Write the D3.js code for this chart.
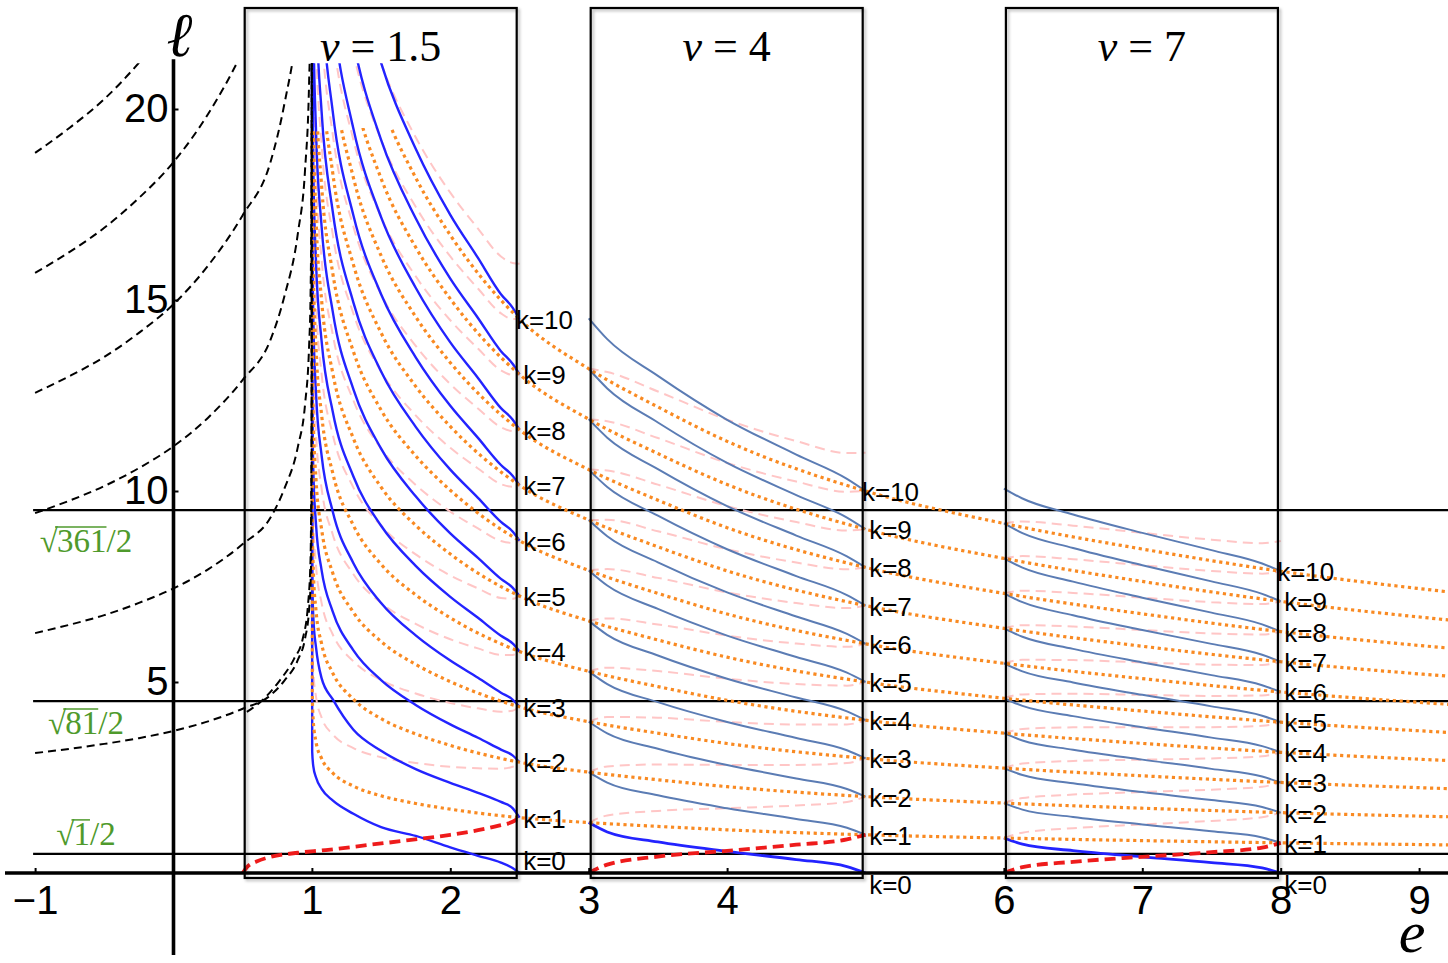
<!DOCTYPE html>
<html>
<head>
<meta charset="utf-8">
<script src="https://cdn.jsdelivr.net/npm/d3@7"></script>
<style>
body { margin: 0; background: #fff; }
svg { display: block; }
</style>
</head>
<body>
<svg id="chart" width="1448" height="963"></svg>
<script>
// ---------- values ----------
var xTicks = [-1, 1, 2, 3, 4, 6, 7, 8, 9]
var yTicks = [5, 10, 15, 20]
var levelLines = [0.5, 4.5, 9.5]
var levelRoots = ["1", "81", "361"]
var panelV = [1.5, 4, 7]
var panelTitles = ["1.5", "4", "7"]

// orange dotted curves, k = 1..10, l at eOrange
var eOrange = [1.0, 1.002, 1.01, 1.03, 1.07, 1.15, 1.3, 1.5, 1.75, 2.0, 2.5, 3, 3.5, 4, 5, 6, 7, 8, 9.21]
var orange = [
	[60, 4.78, 3.97, 3.43, 3.0, 2.62, 2.275, 2.02, 1.82, 1.67, 1.45, 1.32, 1.22, 1.13, 1.0, 0.915, 0.848, 0.79, 0.736],
	[60, 9.56, 7.94, 6.86, 6.0, 5.24, 4.55, 4.04, 3.64, 3.34, 2.9, 2.64, 2.44, 2.26, 2.0, 1.83, 1.696, 1.58, 1.472],
	[60, 14.34, 11.91, 10.29, 9.0, 7.86, 6.825, 6.06, 5.46, 5.01, 4.35, 3.96, 3.66, 3.39, 3.0, 2.745, 2.544, 2.37, 2.208],
	[60, 19.12, 15.88, 13.72, 12.0, 10.48, 9.1, 8.08, 7.28, 6.68, 5.8, 5.28, 4.88, 4.52, 4.0, 3.66, 3.392, 3.16, 2.944],
	[60, 23.9, 19.85, 17.15, 15.0, 13.1, 11.375, 10.1, 9.1, 8.35, 7.25, 6.6, 6.1, 5.65, 5.0, 4.575, 4.24, 3.95, 3.68],
	[60, 28.68, 23.82, 20.58, 18.0, 15.72, 13.65, 12.12, 10.92, 10.02, 8.7, 7.92, 7.32, 6.78, 6.0, 5.49, 5.088, 4.74, 4.416],
	[60, 33.46, 27.79, 24.01, 21.0, 18.34, 15.925, 14.14, 12.74, 11.69, 10.15, 9.24, 8.54, 7.91, 7.0, 6.405, 5.936, 5.53, 5.152],
	[60, 38.24, 31.76, 27.44, 24.0, 20.96, 18.2, 16.16, 14.56, 13.36, 11.6, 10.56, 9.76, 9.04, 8.0, 7.32, 6.784, 6.32, 5.888],
	[60, 43.02, 35.73, 30.87, 27.0, 23.58, 20.475, 18.18, 16.38, 15.03, 13.05, 11.88, 10.98, 10.17, 9.0, 8.235, 7.632, 7.11, 6.624],
	[60, 47.8, 39.7, 34.3, 30.0, 26.2, 22.75, 20.2, 18.2, 16.7, 14.5, 13.2, 12.2, 11.3, 10.0, 9.15, 8.48, 7.9, 7.36]
]

// black dashed curves on the left, n = 1..6
var eBlack = [-1, -0.75, -0.5, -0.25, 0, 0.25, 0.5, 0.7, 0.8, 0.9, 0.95, 0.98, 0.99, 0.997, 0.9995, 1.0]
var black = [
	[3.14, 3.25, 3.38, 3.53, 3.72, 3.97, 4.30, 4.65, 5.03, 5.59, 6.13, 6.91, 7.54, 9.11, 14.14, 25.13],
	[6.28, 6.50, 6.75, 7.07, 7.45, 7.95, 8.61, 9.30, 10.05, 11.18, 12.25, 13.82, 15.08, 18.22, 28.27, 50.27],
	[9.42, 9.75, 10.13, 10.60, 11.17, 11.92, 12.91, 13.95, 15.08, 16.78, 18.38, 20.73, 22.62, 27.33, 42.41, 75.4],
	[12.57, 13.01, 13.51, 14.14, 14.89, 15.90, 17.22, 18.60, 20.11, 22.37, 24.50, 27.65, 30.16, 36.44, 56.55, 100.5],
	[15.71, 16.26, 16.89, 17.67, 18.61, 19.87, 21.52, 23.25, 25.13, 27.96, 30.63, 34.56, 37.70, 45.55, 70.69, 125.7],
	[18.85, 19.51, 20.26, 21.21, 22.34, 23.85, 25.82, 27.90, 30.16, 33.55, 36.76, 41.47, 45.24, 54.66, 84.82, 150.8]
]
var blackInset = [[0.53, 4.22], [0.65, 4.55], [0.77, 5.05], [0.87, 5.6], [0.935, 6.15], [0.97, 6.95], [0.99, 8.2], [0.998, 12], [1.0, 25]]

// panel v = 1.5
var e15 = [1.0, 1.002, 1.01, 1.03, 1.07, 1.15, 1.3, 1.5, 1.75, 2.0, 2.2, 2.366, 2.45, 2.5]
var blue15 = [
	[60, 3.18, 2.8, 2.5, 2.2, 1.9, 1.55, 1.2, 0.97, 0.67, 0.45, 0.27, 0.13, 0],
	[60, 7.96, 6.7, 5.9, 5.1, 4.55, 3.75, 3.2, 2.72, 2.36, 2.1, 1.86, 1.7, 1.45],
	[60, 12.74, 10.57, 9.11, 7.93, 6.85, 5.83, 5.05, 4.40, 3.89, 3.54, 3.23, 3.08, 2.9],
	[60, 17.52, 14.54, 12.54, 10.93, 9.47, 8.11, 7.07, 6.22, 5.56, 5.11, 4.72, 4.54, 4.35],
	[60, 22.3, 18.51, 15.97, 13.93, 12.09, 10.38, 9.09, 8.04, 7.23, 6.68, 6.21, 6.01, 5.8],
	[60, 27.08, 22.48, 19.4, 16.93, 14.71, 12.66, 11.11, 9.86, 8.89, 8.25, 7.7, 7.47, 7.25],
	[60, 31.86, 26.45, 22.83, 19.93, 17.33, 14.93, 13.13, 11.68, 10.56, 9.82, 9.19, 8.94, 8.7],
	[60, 36.64, 30.42, 26.26, 22.93, 19.95, 17.21, 15.15, 13.5, 12.23, 11.39, 10.68, 10.4, 10.15],
	[60, 41.42, 34.39, 29.69, 25.93, 22.57, 19.48, 17.17, 15.32, 13.89, 12.96, 12.17, 11.87, 11.6],
	[60, 46.2, 38.36, 33.12, 28.93, 25.19, 21.76, 19.19, 17.14, 15.56, 14.53, 13.66, 13.33, 13.05],
	[60, 50.98, 42.33, 36.55, 31.93, 27.81, 24.03, 21.21, 18.96, 17.23, 16.1, 15.15, 14.8, 14.5]
]
var pink15 = [
	[60, 6.38, 5.31, 4.61, 4.07, 3.63, 3.27, 3.03, 2.88, 2.78, 2.74, 2.73, 2.78, 2.9],
	[60, 11.16, 9.28, 8.04, 7.07, 6.25, 5.54, 5.05, 4.70, 4.45, 4.31, 4.22, 4.25, 4.35],
	[60, 15.94, 13.25, 11.47, 10.07, 8.87, 7.82, 7.07, 6.52, 6.12, 5.88, 5.71, 5.71, 5.8],
	[60, 20.72, 17.22, 14.9, 13.07, 11.49, 10.09, 9.09, 8.34, 7.79, 7.45, 7.2, 7.18, 7.25],
	[60, 25.5, 21.19, 18.33, 16.07, 14.11, 12.37, 11.11, 10.16, 9.46, 9.02, 8.69, 8.64, 8.7],
	[60, 30.28, 25.16, 21.76, 19.07, 16.73, 14.64, 13.13, 11.98, 11.13, 10.59, 10.18, 10.11, 10.15],
	[60, 35.06, 29.13, 25.19, 22.07, 19.35, 16.92, 15.15, 13.8, 12.8, 12.16, 11.67, 11.57, 11.6],
	[60, 39.84, 33.1, 28.62, 25.07, 21.97, 19.19, 17.17, 15.62, 14.47, 13.73, 13.16, 13.04, 13.05],
	[60, 44.62, 37.07, 32.05, 28.07, 24.59, 21.47, 19.19, 17.44, 16.14, 15.3, 14.65, 14.5, 14.5],
	[60, 49.4, 41.04, 35.48, 31.07, 27.21, 23.74, 21.21, 19.26, 17.81, 16.87, 16.14, 15.97, 15.95]
]
var red15 = [[0.5, 0], [0.53, 0.15], [0.6, 0.3], [0.7, 0.42], [0.9, 0.53], [1.1, 0.6], [1.4, 0.73], [1.7, 0.86], [2.0, 1.0], [2.2, 1.12], [2.35, 1.24], [2.45, 1.34], [2.5, 1.45]]

// panel v = 4
var e4 = [3, 3.134, 3.5, 4, 4.5, 4.866, 5]
var blue4 = [
	[1.32, 1.075, 0.813, 0.565, 0.353, 0.169, 0],
	[2.64, 2.365, 2.033, 1.695, 1.413, 1.184, 1],
	[3.96, 3.655, 3.253, 2.825, 2.473, 2.199, 2],
	[5.28, 4.945, 4.473, 3.955, 3.533, 3.214, 3],
	[6.6, 6.235, 5.693, 5.085, 4.593, 4.229, 4],
	[7.92, 7.525, 6.913, 6.215, 5.653, 5.244, 5],
	[9.24, 8.815, 8.133, 7.345, 6.713, 6.259, 6],
	[10.56, 10.105, 9.353, 8.475, 7.773, 7.274, 7],
	[11.88, 11.395, 10.573, 9.605, 8.833, 8.289, 8],
	[13.2, 12.685, 11.793, 10.735, 9.893, 9.304, 9],
	[14.52, 13.975, 13.013, 11.865, 10.953, 10.319, 10]
]
var pink4 = [
	[1.32, 1.505, 1.626, 1.695, 1.767, 1.86, 2],
	[2.64, 2.79, 2.84, 2.83, 2.83, 2.88, 3],
	[3.96, 4.085, 4.066, 3.955, 3.887, 3.89, 4],
	[5.28, 5.375, 5.286, 5.085, 4.947, 4.905, 5],
	[6.6, 6.665, 6.506, 6.215, 6.007, 5.92, 6],
	[7.92, 7.955, 7.726, 7.345, 7.067, 6.935, 7],
	[9.24, 9.245, 8.946, 8.475, 8.127, 7.95, 8],
	[10.56, 10.535, 10.166, 9.605, 9.187, 8.965, 9],
	[11.88, 11.825, 11.386, 10.735, 10.247, 9.98, 10],
	[13.2, 13.115, 12.606, 11.865, 11.307, 10.995, 11]
]
var red4 = [0, 0.22, 0.43, 0.58, 0.74, 0.88, 1.0]

// panel v = 7
var e7 = [6, 6.134, 6.5, 7, 7.5, 7.866, 8]
var blue7 = [
	[0.915, 0.754, 0.587, 0.424, 0.272, 0.133, 0],
	[1.83, 1.659, 1.467, 1.272, 1.09, 0.93, 0.79],
	[2.745, 2.564, 2.347, 2.12, 1.908, 1.727, 1.58],
	[3.66, 3.469, 3.227, 2.968, 2.726, 2.524, 2.37],
	[4.575, 4.374, 4.107, 3.816, 3.544, 3.321, 3.16],
	[5.49, 5.279, 4.987, 4.664, 4.362, 4.118, 3.95],
	[6.405, 6.184, 5.867, 5.512, 5.18, 4.915, 4.74],
	[7.32, 7.089, 6.747, 6.36, 5.998, 5.712, 5.53],
	[8.235, 7.994, 7.627, 7.208, 6.816, 6.509, 6.32],
	[9.15, 8.899, 8.507, 8.056, 7.634, 7.306, 7.11],
	[10.065, 9.804, 9.387, 8.904, 8.452, 8.103, 7.9]
]
var pink7 = [
	[0.915, 1.056, 1.173, 1.272, 1.364, 1.461, 1.58],
	[1.83, 1.961, 2.053, 2.12, 2.182, 2.258, 2.37],
	[2.745, 2.866, 2.933, 2.968, 3.0, 3.055, 3.16],
	[3.66, 3.771, 3.813, 3.816, 3.818, 3.852, 3.95],
	[4.575, 4.676, 4.693, 4.664, 4.636, 4.649, 4.74],
	[5.49, 5.581, 5.573, 5.512, 5.454, 5.446, 5.53],
	[6.405, 6.486, 6.453, 6.36, 6.272, 6.243, 6.32],
	[7.32, 7.391, 7.333, 7.208, 7.09, 7.04, 7.11],
	[8.235, 8.296, 8.213, 8.056, 7.908, 7.837, 7.9],
	[9.15, 9.201, 9.093, 8.904, 8.726, 8.634, 8.69]
]
var red7 = [0, 0.151, 0.293, 0.424, 0.545, 0.664, 0.79]

// ---------- drawing ----------
var W = 1448, H = 963
var svg = d3.select("#chart")
var x = d3.scaleLinear().domain([-1, 9]).range([35.1, 1419.1])
var y = d3.scaleLinear().domain([0, 20]).range([873, 109])

var serif = "'Liberation Serif', 'Times New Roman', serif"
var sans = "'Liberation Sans', Arial, Helvetica, sans-serif"

var defs = svg.append("defs")
function clipRect(id, x0, y0, x1, y1){
	defs.append("clipPath").attr("id", id)
		.append("rect")
		.attr("x", x0).attr("y", y0)
		.attr("width", x1 - x0).attr("height", y1 - y0)
}
clipRect("clipPanel", 0, y(21.2), W, H)
clipRect("clipOrange", x(1) - 1.5, y(19.5), W, H)
clipRect("clipBlack", 0, y(21.2), x(1) + 1.5, H)

var shadow = defs.append("filter").attr("id", "shadow")
	.attr("x", "-5%").attr("y", "-2%").attr("width", "110%").attr("height", "104%")
shadow.append("feDropShadow")
	.attr("dx", 2).attr("dy", 2).attr("stdDeviation", 1.8)
	.attr("flood-color", "#000").attr("flood-opacity", 0.28)

var line = d3.line()
	.x(d => x(d[0]))
	.y(d => y(d[1]))
	.curve(d3.curveMonotoneX)

function pairs(es, ls){
	return es.map((e, i) => [e, ls[i]])
}

function drawSet(layer, curves, stroke, width, dash){
	layer.selectAll(null)
		.data(curves)
		.enter()
		.append("path")
		.attr("d", d => line(d))
		.attr("fill", "none")
		.attr("stroke", typeof stroke === "function" ? (d, i) => stroke(i) : stroke)
		.attr("stroke-width", typeof width === "function" ? (d, i) => width(i) : width)
		.attr("stroke-dasharray", dash)
}

// horizontal level lines
svg.append("g").selectAll("line")
	.data(levelLines)
	.enter()
	.append("line")
	.attr("x1", x(-1) - 2).attr("x2", W)
	.attr("y1", d => y(d)).attr("y2", d => y(d))
	.attr("stroke", "#000").attr("stroke-width", 2.2)

var panels = [
	{e: e15, blue: blue15, pink: pink15, red: red15},
	{e: e4, blue: blue4, pink: pink4, red: pairs(e4, red4)},
	{e: e7, blue: blue7, pink: pink7, red: pairs(e7, red7)}
]

var curveLayer = svg.append("g")

// pink dashed
panels.forEach(p => {
	var g = curveLayer.append("g").attr("clip-path", "url(#clipPanel)")
	drawSet(g, p.pink.map(ls => pairs(p.e, ls)), "#ffc6c6", 2, "10,6")
})

// blue solid
panels.forEach((p, pi) => {
	var g = curveLayer.append("g").attr("clip-path", "url(#clipPanel)")
	var col = i => (pi === 0 || i === 0) ? "#2323ff" : "#5b7cb4"
	var wid = i => (pi === 0) ? 2.4 : (i === 0 ? 2.8 : 2)
	drawSet(g, p.blue.map(ls => pairs(p.e, ls)), col, wid, null)
})

// orange dotted
var og = curveLayer.append("g").attr("clip-path", "url(#clipOrange)")
drawSet(og, orange.map(ls => pairs(eOrange, ls)), "#f98a22", 3.2, "3.2,3.6")

// red dashed
var rg = curveLayer.append("g")
drawSet(rg, panels.map(p => p.red), "#ee1b1b", 3.8, "11,6")

// black dashed
var bg = curveLayer.append("g").attr("clip-path", "url(#clipBlack)")
drawSet(bg, black.map(ls => pairs(eBlack, ls)).concat([blackInset]), "#000", 2, "8,5")

// axes
var xAxis = d3.axisBottom(x).tickValues(xTicks).tickSize(-5).tickPadding(13)
var yAxis = d3.axisLeft(y).tickValues(yTicks).tickSize(-5).tickPadding(5)

var gx = svg.append("g").attr("transform", "translate(0," + y(0) + ")").call(xAxis)
var gy = svg.append("g").attr("transform", "translate(" + x(0) + ",0)").call(yAxis)
;[gx, gy].forEach(g => {
	g.select(".domain").remove()
	g.attr("font-family", sans).attr("font-size", 40)
	g.selectAll(".tick line").attr("stroke", "#000").attr("stroke-width", 2)
	g.selectAll(".tick text").attr("fill", "#000")
})

svg.append("line")
	.attr("x1", 5).attr("x2", W)
	.attr("y1", y(0)).attr("y2", y(0))
	.attr("stroke", "#000").attr("stroke-width", 3.6)
svg.append("line")
	.attr("x1", x(0)).attr("x2", x(0))
	.attr("y1", y(21.3)).attr("y2", 955)
	.attr("stroke", "#000").attr("stroke-width", 3.6)

// axis names
svg.append("text")
	.attr("x", x(0) + 6).attr("y", 56)
	.attr("text-anchor", "middle")
	.attr("font-family", serif).attr("font-style", "italic")
	.attr("font-size", 62)
	.text("ℓ")
svg.append("text")
	.attr("x", 1412).attr("y", 952)
	.attr("text-anchor", "middle")
	.attr("font-family", serif).attr("font-style", "italic")
	.attr("font-size", 60)
	.text("e")

// panel boxes, titles and k labels
panelV.forEach((v, pi) => {
	var left = x(v - 1) + 2
	var right = left + 272
	svg.append("rect")
		.attr("x", left).attr("y", 8)
		.attr("width", right - left).attr("height", y(-0.13) - 8)
		.attr("fill", "none")
		.attr("stroke", "#000").attr("stroke-width", 2.2)
		.attr("filter", "url(#shadow)")

	var t = svg.append("text")
		.attr("x", (left + right) / 2).attr("y", 61)
		.attr("text-anchor", "middle")
		.attr("font-family", serif).attr("font-size", 44)
	t.append("tspan").attr("font-style", "italic").text("v")
	t.append("tspan").text(" = " + panelTitles[pi])

	var idx = eOrange.indexOf(v + 1)
	var labels = [{k: 0, l: 0}].concat(orange.map((ls, i) => ({k: i + 1, l: ls[idx]})))
	svg.append("g").selectAll("text")
		.data(labels)
		.enter()
		.append("text")
		.attr("x", x(v + 1) + 25)
		.attr("y", d => d.k === 0 ? y(0) + (pi === 0 ? -12 : 12) : y(d.l) + 1)
		.attr("text-anchor", "middle")
		.attr("dominant-baseline", "central")
		.attr("font-family", sans).attr("font-size", 26)
		.attr("fill", "#000")
		.text(d => "k=" + d.k)
})

// green sqrt labels beside the level lines
var labelShift = [-20, 22, 31]
levelLines.forEach((l, i) => {
	var g = svg.append("g").attr("fill", "#4f9a2c")
		.attr("font-family", serif).attr("font-size", 33)
	var base = y(l) + labelShift[i] + 11
	var rad = g.append("text").attr("x", 0).attr("y", base).text("√")
	var w0 = rad.node().getComputedTextLength()
	var num = g.append("text").attr("x", w0 - 1).attr("y", base).text(levelRoots[i])
	var w1 = num.node().getComputedTextLength()
	var tail = g.append("text").attr("x", w0 - 1 + w1).attr("y", base).text("/2")
	var w2 = tail.node().getComputedTextLength()
	g.append("line")
		.attr("x1", w0 - 3).attr("x2", w0 - 1 + w1)
		.attr("y1", base - 25).attr("y2", base - 25)
		.attr("stroke", "#4f9a2c").attr("stroke-width", 1.5)
	g.attr("transform", "translate(" + (86 - (w0 - 1 + w1 + w2) / 2) + ",0)")
})
</script>
</body>
</html>
